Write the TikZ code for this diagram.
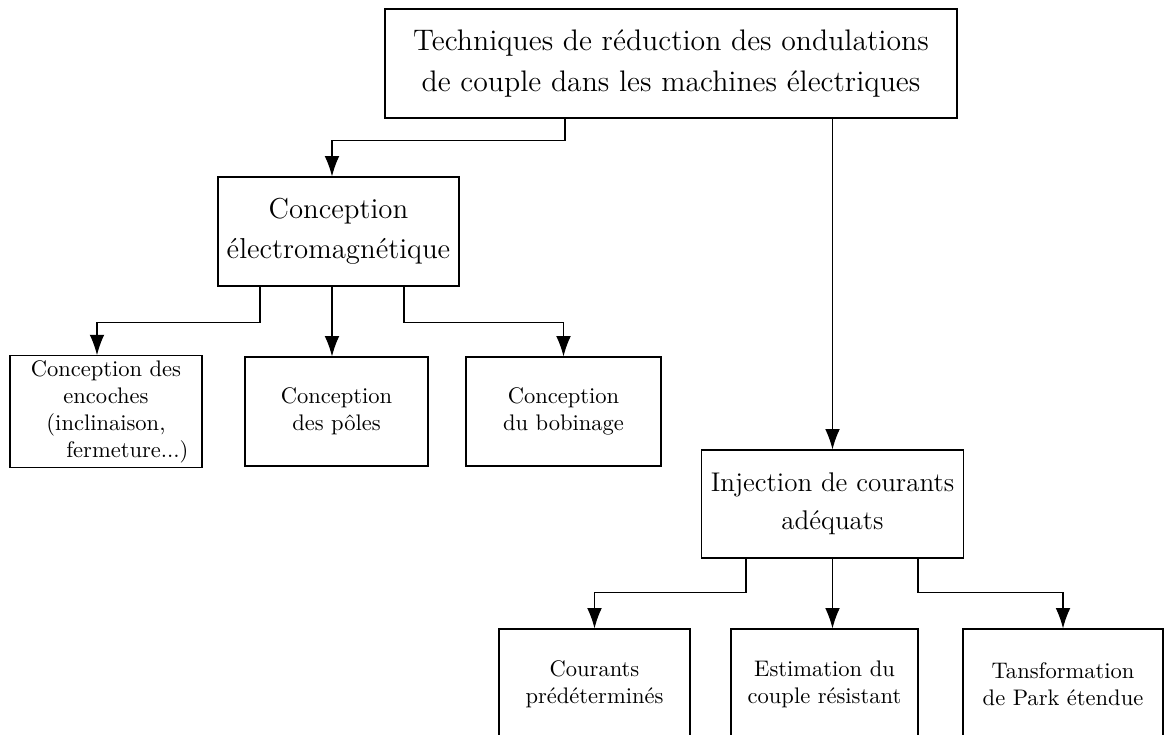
\documentclass[tikz,border=0pt]{standalone}
\usepackage{fontspec}
\usetikzlibrary{arrows.meta}

\newcommand{\pxu}{0.444pt}

\tikzset{
  blk/.style 2 args={draw, align=center, inner sep=2pt,
    minimum width=#1*\pxu, minimum height=#2*\pxu},
  bigblk/.style 2 args={blk={#1}{#2}, font=\large},
  arr/.style={-{Latex[length=9pt,width=6.5pt]}, line width=0.5pt}
}

\begin{document}
\begin{tikzpicture}[x=0.444pt, y=-0.444pt, line width=0.5pt]
        \useasboundingbox (0,0) rectangle (1165,735);
        % niveau 0
        \node[bigblk={572}{109}, font=\fontsize{13.2}{15}\selectfont] (top) at (671,63.5) {Techniques de réduction des ondulations\\[3pt] de couple dans les machines électriques};
        % niveau 1
        \node[bigblk={241}{109}, font=\fontsize{12.8}{15}\selectfont] (em) at (338.5,231.5) {Conception\\[3pt] électromagnétique};
        \node[bigblk={262}{108}] (injection) at (832.5,504) {Injection de courants\\[3pt] adéquats};
        % niveau 2, conception
        \node[blk={192}{109}] (encoches) at (106,411.5) {Conception des\\ encoches\\ (inclinaison,\hspace*{15pt}\\ \hspace*{19pt}fermeture...)};
        \node[blk={183}{109}] (poles) at (336.5,411.5) {Conception\\ des pôles};
        \node[blk={195}{109}] (bobinage) at (563.5,411.5) {Conception\\ du bobinage};
        % niveau 2, courants
        \node[blk={191}{110}] (courants) at (594.5,684) {Courants\\ prédéterminés};
        \node[blk={187}{110}] (estimation) at (824.5,684) {Estimation du\\ couple résistant};
        \node[blk={200}{110}] (park) at (1063,684) {Tansformation\\ de Park étendue};
        % connecteurs
        \draw[arr] ([xshift=-106*\pxu]top.south) -- ++(0,22) -| ([xshift=-6.5*\pxu]em.north);
        \draw[arr] (top.south -| injection.north) -- (injection.north);
        \draw[arr] ([xshift=-78.5*\pxu]em.south) -- ++(0,36) -| ([xshift=-9*\pxu]encoches.north);
        \draw[arr] ([xshift=-6.5*\pxu]em.south) -- ([xshift=-4.5*\pxu]poles.north);
        \draw[arr] ([xshift=65.5*\pxu]em.south) -- ++(0,36) -| (bobinage.north);
        \draw[arr] ([xshift=-86.5*\pxu]injection.south) -- ++(0,34) -| (courants.north);
        \draw[arr] (injection.south) -- (injection.south |- estimation.north);
        \draw[arr] ([xshift=85.5*\pxu]injection.south) -- ++(0,34) -| (park.north);
\end{tikzpicture}
\end{document}
